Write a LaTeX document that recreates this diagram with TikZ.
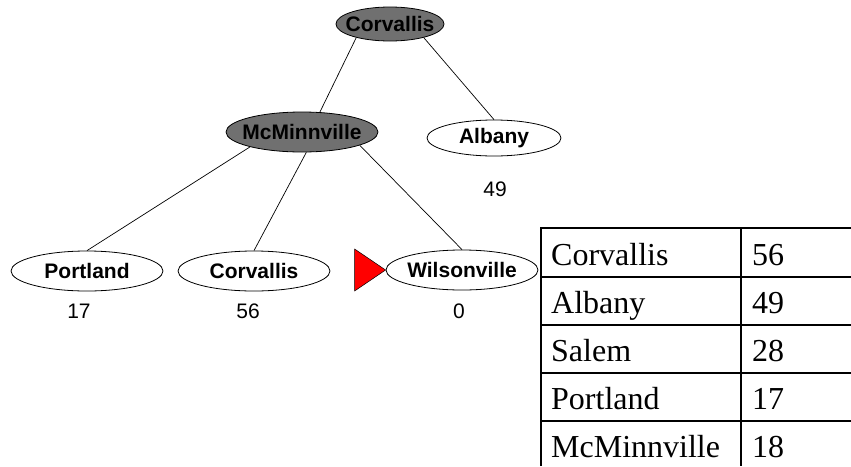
\documentclass[tikz,border=0pt]{standalone}
\usepackage{fontspec}
\setmainfont{Liberation Serif}
\setsansfont{Liberation Sans}
\usetikzlibrary{shapes.geometric,positioning}
\definecolor{nodegray}{RGB}{112,112,112}

\begin{document}
\begin{tikzpicture}[x=1pt,y=-1pt,
  city/.style={ellipse,draw,line width=0.8pt,inner sep=0pt,minimum width=152pt,minimum height=40pt,
    font=\sffamily\bfseries\fontsize{21}{21}\selectfont},
  visited/.style={city,fill=nodegray},
  cost/.style={font=\sffamily\fontsize{21}{21}\selectfont},
  cell/.style={anchor=base west,inner sep=0pt,font=\fontsize{32}{32}\selectfont},
  tbl/.style={line width=2pt}]
  \useasboundingbox (0,0) rectangle (851,466);

  % Draw the search tree
  \node[visited,minimum width=108pt,minimum height=34pt] (root) at (390,24) {\makebox[0pt]{Corvallis}};
  \node[visited] (mcm) at (302,132) {\makebox[0pt]{McMinnville}};
  \node[city,minimum width=134pt,minimum height=36pt] (albany) at (494,138) {\makebox[0pt]{Albany}};
  \node[city] (portland) at (87,271) {\makebox[0pt]{Portland}};
  \node[city] (corv) at (254,271) {\makebox[0pt]{Corvallis}};
  \node[city] (wils) at (462,270) {\makebox[0pt]{Wilsonville}};

  % Add the edges
  \draw[line width=0.7pt] (root.202) -- (mcm.48);
  \draw[line width=0.7pt] (root.338) -- (albany.north);
  \draw[line width=0.7pt] (mcm.196) -- (portland.north);
  \draw[line width=0.7pt] (mcm.282) -- (corv.north);
  \draw[line width=0.7pt] (mcm.347) -- (wils.north);

  % Add the costs below the leaves
  \node[cost] (c49) at (495,189) {49};
  \node[cost] (c17) at (79,311) {17};
  \node[cost] (c56) at (248,311) {56};
  \node[cost] (c0) at (459,311) {0};

  % Red marker pointing at the current node
  \filldraw[fill=red,line width=0.5pt] (wils.west) -- ++(-31,-21) -- ++(0,42) -- cycle;

  % Draw the table
  \draw[tbl] (541,466) -- (541,228) -- (851,228);
  \draw[tbl] (741,228) -- (741,466);
  \foreach \y in {277,325,373,421}
    \draw[line width=1.3pt] (541,\y) -- (851,\y);

  % Add the table entries
  \foreach \name/\val [count=\i] in {Corvallis/56,Albany/49,Salem/28,Portland/17,McMinnville/18} {
    \node[cell] (row\i) at (551,217+48*\i) {\name};
    \node[cell] (val\i) at (752,217+48*\i) {\val};
  }
\end{tikzpicture}
\end{document}
